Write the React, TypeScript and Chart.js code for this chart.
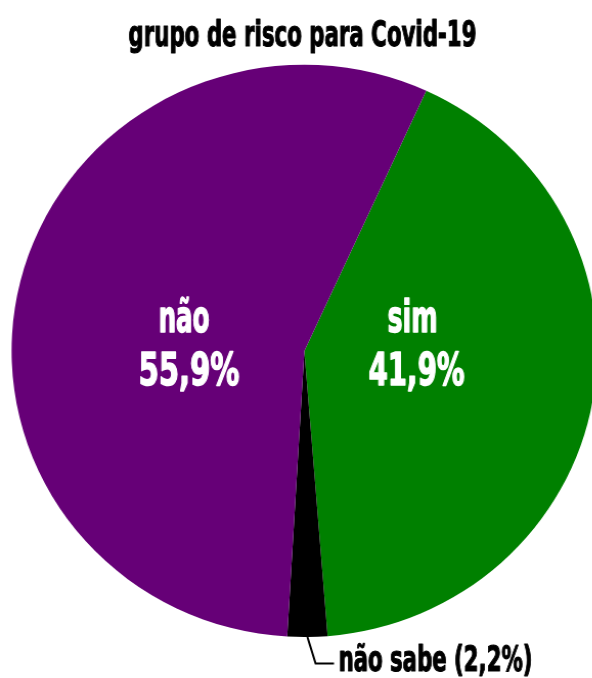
import React, { useEffect, useRef } from "react";
import { Chart, registerables } from "chart.js";

Chart.register(...registerables);

const title = "grupo de risco para Covid-19";
const categories = ["sim", "não sabe", "não"];
const values = [41.9, 2.2, 55.9];
const valueLabels = ["41,9%", "2,2%", "55,9%"];
const colors = ["#008000", "#000000", "#660077"];

const SX = 1.023; // horizontal stretch of the original picture
const FONT = '"Liberation Sans Narrow", "DejaVu Sans Condensed", "Liberation Sans", sans-serif';

function fitText(ctx: CanvasRenderingContext2D, text: string, cx: number, baseline: number, size: number, width: number, color: string) {
  ctx.save();
  ctx.font = `bold ${size}px ${FONT}`;
  ctx.fillStyle = color;
  ctx.strokeStyle = color;
  ctx.lineWidth = size / 30;
  ctx.lineJoin = "round";
  ctx.textAlign = "center";
  ctx.textBaseline = "alphabetic";
  const w = ctx.measureText(text).width || 1;
  const k = (width / SX) / w;
  ctx.translate(cx / SX, baseline);
  ctx.scale(k, 1);
  ctx.fillText(text, 0, 0);
  ctx.strokeText(text, 0, 0);
  ctx.restore();
}

const labelPlugin = {
  id: "pieLabels",
  afterDraw(chart: any) {
    const ctx = chart.ctx as CanvasRenderingContext2D;
    fitText(ctx, title, 302.5, 45.5, 35, 348, "#000000");
    // inside labels
    fitText(ctx, categories[2], 184, 332, 44, 51, "#ffffff");
    fitText(ctx, valueLabels[2], 189, 385, 44, 101, "#ffffff");
    fitText(ctx, categories[0], 412.5, 332, 44, 50, "#ffffff");
    fitText(ctx, valueLabels[0], 416.5, 385, 44, 96, "#ffffff");
    // outside label with leader line
    const arc = chart.getDatasetMeta(0).data[1] as any;
    const mid = (arc.startAngle + arc.endAngle) / 2;
    const sx = arc.x + Math.cos(mid) * arc.outerRadius;
    const sy = arc.y + Math.sin(mid) * arc.outerRadius;
    ctx.save();
    ctx.strokeStyle = "#000000";
    ctx.lineWidth = 2;
    ctx.beginPath();
    ctx.moveTo(sx, sy);
    ctx.lineTo(sx + 8, 663.5);
    ctx.lineTo(sx + 26, 663.5);
    ctx.stroke();
    ctx.restore();
    fitText(ctx, `${categories[1]} (${valueLabels[1]})`, 435.5, 671, 35, 194, "#000000");
  },
};

export default function App() {
  const ref = useRef<HTMLCanvasElement>(null);
  useEffect(() => {
    if (!ref.current) return;
    const chart = new Chart(ref.current, {
      type: "pie",
      data: {
        labels: categories,
        datasets: [
          {
            data: values,
            backgroundColor: colors,
            borderWidth: 0,
          },
        ],
      },
      options: {
        responsive: false,
        animation: false,
        rotation: 24.6,
        layout: { padding: { left: 11.3, right: 16.3, top: 64.7, bottom: 40.9 } },
        plugins: {
          legend: { display: false },
          title: { display: false },
          tooltip: { enabled: false },
        },
      },
      plugins: [labelPlugin],
    });
    return () => chart.destroy();
  }, []);
  return (
    <div style={{ position: "fixed", left: 0, top: 0, width: 592, height: 678, overflow: "hidden", background: "#fff" }}>
      <div style={{ transform: `scaleX(${SX})`, transformOrigin: "0 0", width: 600, height: 678 }}>
        <canvas ref={ref} width={600} height={678} style={{ display: "block" }} />
      </div>
    </div>
  );
}
